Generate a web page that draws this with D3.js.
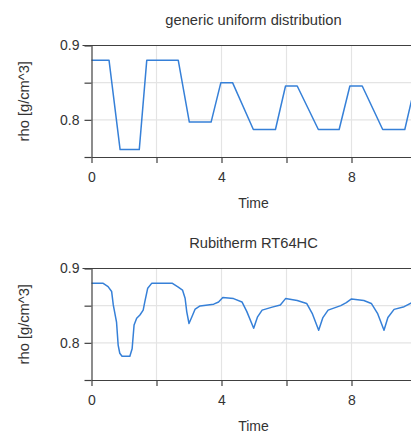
<!DOCTYPE html>
<html>
<head>
<meta charset="utf-8">
<script src="https://cdn.jsdelivr.net/npm/d3@7"></script>
<style>
  html, body { margin: 0; padding: 0; background: #fff; }
  svg { display: block; }
  text { font-family: "Liberation Sans", Arial, sans-serif; fill: #333; }
</style>
</head>
<body>
<svg id="chart" width="411" height="433"></svg>
<script>
// ---- data ----
const titles = ["generic uniform distribution", "Rubitherm RT64HC"];
const xLabel = "Time";
const yLabel = "rho [g/cm^3]";
const xTickValues = [0, 2, 4, 6, 8, 10];
const xTickLabels = ["0", "", "4", "", "8", ""];
const yTickValues = [0.75, 0.8, 0.85, 0.9];
const yTickLabels = ["", "0.8", "", "0.9"];

const timeA = [0, 0.54, 0.88, 1.47, 1.70, 2.67, 3.01, 3.68, 3.98, 4.34, 4.98, 5.66, 5.97, 6.33, 6.98, 7.62, 7.95, 8.33, 8.96, 9.64, 9.95, 10];
const rhoA  = [0.88, 0.88, 0.76, 0.76, 0.88, 0.88, 0.797, 0.797, 0.85, 0.85, 0.787, 0.787, 0.8455, 0.8455, 0.787, 0.787, 0.8455, 0.8455, 0.787, 0.787, 0.8455, 0.8455];

const timeB = [0, 0.36, 0.51, 0.62, 0.67, 0.77, 0.82, 0.87, 0.94, 1.18, 1.25, 1.31, 1.39, 1.49, 1.59, 1.64, 1.73, 1.85, 2.49, 2.67, 2.80, 2.88, 2.93, 3.00, 3.09, 3.19, 3.34, 3.76, 3.91, 4.04, 4.37, 4.63, 4.78, 4.99, 5.11, 5.25, 5.56, 5.81, 5.97, 6.33, 6.62, 6.79, 6.99, 7.12, 7.28, 7.67, 7.84, 8.00, 8.38, 8.61, 8.80, 9.00, 9.12, 9.31, 9.62, 9.86, 10];
const rhoB  = [0.88, 0.88, 0.8757, 0.869, 0.851, 0.828, 0.797, 0.786, 0.782, 0.782, 0.792, 0.824, 0.833, 0.8375, 0.844, 0.855, 0.8735, 0.88, 0.88, 0.875, 0.871, 0.86, 0.842, 0.826, 0.835, 0.8455, 0.8496, 0.852, 0.855, 0.861, 0.8595, 0.855, 0.842, 0.8195, 0.835, 0.844, 0.848, 0.851, 0.8595, 0.857, 0.853, 0.8397, 0.817, 0.834, 0.844, 0.85, 0.854, 0.859, 0.857, 0.853, 0.8397, 0.817, 0.834, 0.845, 0.8486, 0.854, 0.858];

// ---- layout ----
const svg = d3.select("#chart");
const plotLeft = 91.5, plotWidth = 325, plotHeight = 111.5;
const panelTops = [45.5, 268.5];
const series = [[timeA, rhoA], [timeB, rhoB]];

const x = d3.scaleLinear().domain([0, 10]).range([plotLeft, plotLeft + plotWidth]);

series.forEach(([ts, vs], i) => {
  const top = panelTops[i];
  const bottom = top + plotHeight;
  const y = d3.scaleLinear().domain([0.75, 0.9]).range([bottom, top]);
  const g = svg.append("g");

  // grid
  g.append("g").selectAll("line").data(xTickValues.filter(v => v > 0))
    .join("line")
    .attr("x1", d => x(d)).attr("x2", d => x(d))
    .attr("y1", top).attr("y2", bottom)
    .attr("stroke", "#e4e4e4").attr("stroke-width", 1.2);
  g.append("g").selectAll("line").data(yTickValues.filter(v => v > 0.75 && v < 0.9))
    .join("line")
    .attr("x1", plotLeft).attr("x2", plotLeft + plotWidth)
    .attr("y1", d => y(d)).attr("y2", d => y(d))
    .attr("stroke", "#e4e4e4").attr("stroke-width", 1.2);

  // top border
  g.append("line")
    .attr("x1", plotLeft - 9).attr("x2", plotLeft + plotWidth)
    .attr("y1", top).attr("y2", top)
    .attr("stroke", "#404040").attr("stroke-width", 1.2);

  // line
  const pts = ts.map((t, k) => [t, vs[k]]);
  g.append("path")
    .datum(pts)
    .attr("fill", "none")
    .attr("stroke", "#3680d8")
    .attr("stroke-width", 1.5)
    .attr("stroke-linejoin", "round")
    .attr("d", d3.line().x(d => x(d[0])).y(d => y(d[1])));

  // axes
  const yAxis = d3.axisLeft(y)
    .tickValues(yTickValues)
    .tickFormat((d, k) => yTickLabels[k])
    .tickSizeInner(7).tickSizeOuter(0).tickPadding(5);
  const ya = g.append("g").attr("transform", `translate(${plotLeft},0)`).call(yAxis);
  const xAxis = d3.axisBottom(x)
    .tickValues(xTickValues)
    .tickFormat((d, k) => xTickLabels[k])
    .tickSizeInner(6).tickSizeOuter(0).tickPadding(9);
  const xa = g.append("g").attr("transform", `translate(0,${bottom})`).call(xAxis);
  [ya, xa].forEach(a => {
    a.select(".domain").attr("stroke", "#404040").attr("stroke-width", 1.2);
    a.selectAll(".tick line").attr("stroke", "#404040").attr("stroke-width", 1.2);
    a.selectAll(".tick text").attr("fill", "#333")
      .style("font-family", '"Liberation Sans", Arial, sans-serif')
      .style("font-size", "14px");
  });

  // title
  g.append("text")
    .attr("x", plotLeft + plotWidth / 2 - 0.5).attr("y", top - 21)
    .attr("text-anchor", "middle")
    .style("font-size", "14.7px")
    .text(titles[i]);

  // x label
  g.append("text")
    .attr("x", plotLeft + plotWidth / 2 - 0.5).attr("y", bottom + 51)
    .attr("text-anchor", "middle")
    .style("font-size", "14px")
    .text(xLabel);

  // y label
  g.append("text")
    .attr("transform", `translate(29,${(top + bottom) / 2}) rotate(-90)`)
    .attr("text-anchor", "middle")
    .style("font-size", "14.7px")
    .text(yLabel);
});
</script>
</body>
</html>
